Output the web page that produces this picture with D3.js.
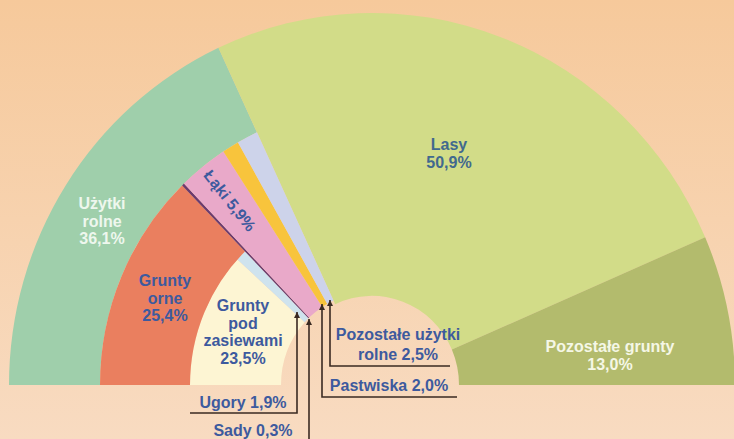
<!DOCTYPE html>
<html>
<head>
<meta charset="utf-8">
<script src="https://cdn.jsdelivr.net/npm/d3@7/dist/d3.min.js"></script>
<style>
  html, body { margin: 0; padding: 0; }
  body { width: 734px; height: 439px; overflow: hidden; }
  text { font-family: "Liberation Sans", Arial, sans-serif; font-weight: bold; font-size: 16px; }
</style>
</head>
<body>
<svg id="chart" width="734" height="439"></svg>
<script>
// Outer ring: total land use (percent)
const outerCats = ['Użytki rolne', 'Lasy', 'Pozostałe grunty'];
const outerVals = [36.1, 50.9, 13.0];
const outerColors = ['#9fcfab', '#d2dc88', '#b3bb6d'];

// Breakdown of agricultural land
const agriCats = ['Grunty orne', 'Sady', 'Łąki', 'Pastwiska', 'Pozostałe użytki rolne'];
const agriVals = [25.4, 0.3, 5.9, 2.0, 2.5];
const agriColors = ['#ea7f5f', '#6b3b6e', '#e9a9c9', '#f8c43c', '#cdd3ea'];

// Breakdown of arable land
const arableCats = ['Grunty pod zasiewami', 'Ugory'];
const arableVals = [23.5, 1.9];
const arableColors = ['#fdf5d3', '#cfe3ee'];

const width = 734, height = 439;
const cx = 372, cy = 385;
const yStretch = 1.025;

// radii
const rHole = 87, rInner = 91, rArable = 182, rAgri = 272, rOuter = 363;

const svg = d3.select('#chart');

// background gradient
const defs = svg.append('defs');
const grad = defs.append('linearGradient')
  .attr('id', 'bg').attr('x1', 0).attr('y1', 0).attr('x2', 0).attr('y2', 1);
grad.append('stop').attr('offset', '0%').attr('stop-color', '#f6c99b');
grad.append('stop').attr('offset', '100%').attr('stop-color', '#f8dbc1');
svg.append('rect').attr('width', width).attr('height', height).attr('fill', 'url(#bg)');

// percent -> angle, half circle from left to right
const angle = d3.scaleLinear().domain([0, 100]).range([-Math.PI / 2, Math.PI / 2]);

// turn values into cumulative start/end segments
function segments(cats, vals, colors) {
  let acc = 0;
  return cats.map((c, i) => {
    const s = { name: c, value: vals[i], color: colors[i], start: acc, end: acc + vals[i] };
    acc += vals[i];
    return s;
  });
}

const outer = segments(outerCats, outerVals, outerColors);
const agri = segments(agriCats, agriVals, agriColors);
const arable = segments(arableCats, arableVals, arableColors);

const g = svg.append('g')
  .attr('transform', `translate(${cx},${cy}) scale(1,${yStretch})`);

const arc = d3.arc()
  .startAngle(d => angle(d.start))
  .endAngle(d => angle(d.end))
  .innerRadius(d => d.r0)
  .outerRadius(d => d.r1);

// outer ring; Lasy and Pozostałe grunty reach down to the hole
outer.forEach((d, i) => { d.r0 = i === 0 ? rAgri : rHole; d.r1 = rOuter; });
// agricultural wedges; Grunty orne is a ring, others reach to the centre
agri.forEach((d, i) => { d.r0 = i === 0 ? rArable : rInner; d.r1 = rAgri; });
arable.forEach(d => { d.r0 = rInner; d.r1 = rArable; });

g.selectAll('path.outer').data(outer).enter().append('path')
  .attr('class', 'outer').attr('d', arc).attr('fill', d => d.color);
g.selectAll('path.arable').data(arable).enter().append('path')
  .attr('class', 'arable').attr('d', arc).attr('fill', d => d.color);
g.selectAll('path.agri').data(agri).enter().append('path')
  .attr('class', 'agri').attr('d', arc).attr('fill', d => d.color);

// --- labels ---
const blue = '#3d5a9e';
function label(lines, x, y, color, lh = 17.5) {
  const t = svg.append('text').attr('text-anchor', 'middle').attr('fill', color);
  lines.forEach((l, i) => {
    t.append('tspan').attr('x', x).attr('y', y + i * lh).text(l);
  });
  return t;
}

label(['Użytki', 'rolne', '36,1%'], 102, 209, '#eef7ee');
label(['Lasy', '50,9%'], 449, 150, '#41698e');
label(['Pozostałe grunty', '13,0%'], 610, 352, '#f5f7e6');
label(['Grunty', 'orne', '25,4%'], 165, 286, blue);
label(['Grunty', 'pod', 'zasiewami', '23,5%'], 243, 311, blue);

// Łąki label rotated along its wedge
const laki = agri[2];
const lakiA = angle((laki.start + laki.end) / 2);
const lakiR = 232;
const lx = cx + lakiR * Math.sin(lakiA);
const ly = cy - lakiR * Math.cos(lakiA) * yStretch;
svg.append('text')
  .attr('text-anchor', 'middle')
  .attr('dominant-baseline', 'central')
  .attr('fill', blue)
  .attr('transform', `translate(${lx + 2},${ly + 2}) rotate(${lakiA * 180 / Math.PI + 90})`)
  .text('Łąki 5,9%');

// callouts with arrows
const ink = '#3a2a22';
defs.append('marker')
  .attr('id', 'arrow').attr('viewBox', '0 0 10 10')
  .attr('refX', 10).attr('refY', 5)
  .attr('markerWidth', 9).attr('markerHeight', 6)
  .attr('orient', 'auto')
  .attr('markerUnits', 'userSpaceOnUse')
  .append('path').attr('d', 'M0,0 L10,5 L0,10 Z').attr('fill', ink);

const callouts = [
  { lines: ['Pozostałe użytki', 'rolne 2,5%'], tx: 398, ty: 340, path: [[450, 366], [330, 366], [330, 300]] },
  { lines: ['Pastwiska 2,0%'], tx: 389, ty: 391, path: [[457, 397], [322, 397], [322, 304]] },
  { lines: ['Ugory 1,9%'], tx: 243, ty: 408, path: [[190, 413], [297, 413], [297, 312]] },
  { lines: ['Sady 0,3%'], tx: 253, ty: 436, path: [[309, 445], [309, 319]] }
];

const line = d3.line();
callouts.forEach(c => {
  svg.append('path')
    .attr('d', line(c.path))
    .attr('fill', 'none')
    .attr('stroke', ink)
    .attr('stroke-width', 1.6)
    .attr('marker-end', 'url(#arrow)');
  label(c.lines, c.tx, c.ty, blue, 20);
});
</script>
</body>
</html>
